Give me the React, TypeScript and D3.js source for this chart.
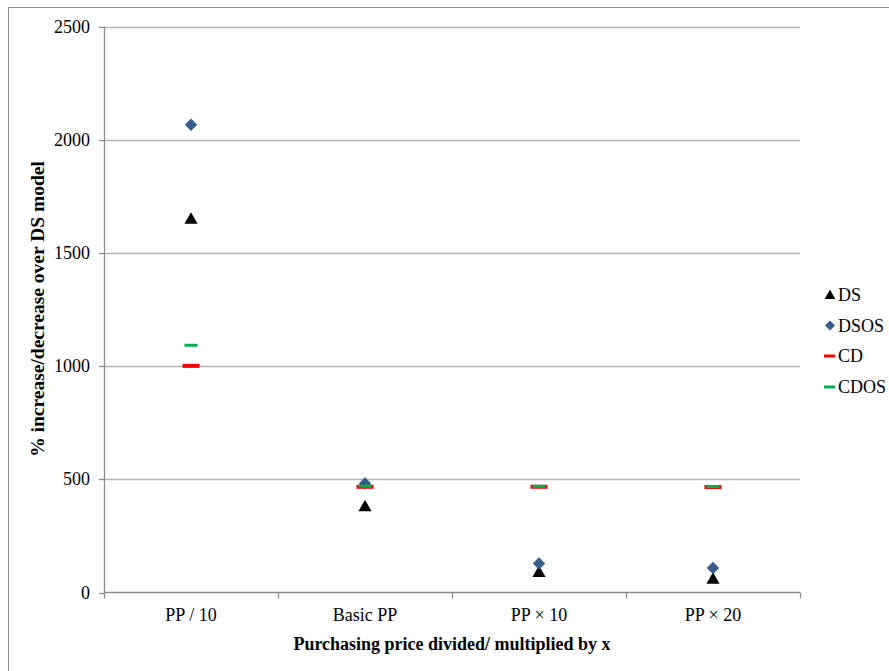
import React from "react";
import * as d3 from "d3";

const categories = ["PP / 10", "Basic PP", "PP \u00d7 10", "PP \u00d7 20"];
const dsValues = [1650, 380, 90, 60];
const dsosValues = [2066, 482, 128, 108];
const cdValues = [1001, 467, 467, 466];
const cdosValues = [1092, 470, 469, 468];
const yTicks = [0, 500, 1000, 1500, 2000, 2500];
const seriesNames = ["DS", "DSOS", "CD", "CDOS"];

const W = 889;
const H = 671;
const FONT = "Liberation Serif, Times New Roman, Tinos, DejaVu Serif, serif";
const BLUE = "#385D8A";
const RED = "#FF0000";
const GREEN = "#00B050";

function diamondPath(r: number) {
  const p = d3.path();
  p.moveTo(0, -r);
  p.lineTo(r, 0);
  p.lineTo(0, r);
  p.lineTo(-r, 0);
  p.closePath();
  return p.toString();
}

export default function App() {
  const x = d3.scaleBand<string>().domain(categories).range([104, 800]).padding(0);
  const y = d3.scaleLinear().domain([0, 2500]).range([592.5, 26.5]);
  const cx = (c: string) => (x(c) as number) + x.bandwidth() / 2;
  const tri = d3.symbol().type(d3.symbolTriangle).size(75)() as string;
  const triLeg = d3.symbol().type(d3.symbolTriangle).size(50)() as string;
  const dia = diamondPath(6.2);
  const diaLeg = diamondPath(5);
  const boundaries = [...categories.map((c) => x(c) as number), 800];
  const legendY = [295, 325.5, 356, 387];

  return (
    <svg width={W} height={H} style={{ position: "absolute", left: 0, top: 0, background: "#fff", fontFamily: FONT }}>
      <rect x={8.5} y={7.5} width={1000} height={1000} fill="#fff" stroke="#8c8c8c" strokeWidth={1} />
      {yTicks.filter((t) => t > 0).map((t) => (
        <line key={"g" + t} x1={104} x2={800} y1={Math.round(y(t)) + 0.5} y2={Math.round(y(t)) + 0.5} stroke="#b3b3b3" strokeWidth={1.3} />
      ))}
      <line x1={104.5} x2={104.5} y1={26.5} y2={592.5} stroke="#8c8c8c" strokeWidth={1.3} />
      {yTicks.map((t) => (
        <g key={"yt" + t}>
          <line x1={99} x2={104} y1={Math.round(y(t)) + 0.5} y2={Math.round(y(t)) + 0.5} stroke="#8c8c8c" strokeWidth={1.3} />
          <text x={90} y={y(t) + 6} textAnchor="end" style={{ fontFamily: FONT }} fontSize={18} fill="#000">{t}</text>
        </g>
      ))}
      <line x1={104} x2={800} y1={592.5} y2={592.5} stroke="#8c8c8c" strokeWidth={1.3} />
      {boundaries.map((b, i) => (
        <line key={"xt" + i} x1={b + 0.5} x2={b + 0.5} y1={592.5} y2={598.5} stroke="#8c8c8c" strokeWidth={1.3} />
      ))}
      {categories.map((c) => (
        <text key={"xl" + c} x={cx(c)} y={621} textAnchor="middle" style={{ fontFamily: FONT }} fontSize={18} fill="#000">{c}</text>
      ))}
      <text x={452} y={649.5} textAnchor="middle" style={{ fontFamily: FONT }} fontSize={18} fontWeight="bold" fill="#000">
        Purchasing price divided/ multiplied by x
      </text>
      <text transform={`translate(44,309) rotate(-90)`} textAnchor="middle" style={{ fontFamily: FONT }} fontSize={19.5} fontWeight="bold" fill="#000">
        % increase/decrease over DS model
      </text>
      {categories.map((c, i) => (
        <path key={"ds" + i} d={tri} transform={`translate(${cx(c)},${y(dsValues[i]) + 1})`} fill="#000" />
      ))}
      {categories.map((c, i) => (
        <path key={"dsos" + i} d={dia} transform={`translate(${cx(c)},${y(dsosValues[i])})`} fill={BLUE} />
      ))}
      {categories.map((c, i) => (
        <rect key={"cd" + i} x={cx(c) - 8.5} y={y(cdValues[i]) - 2} width={17} height={4} fill={RED} />
      ))}
      {categories.map((c, i) => (
        <rect key={"cdos" + i} x={cx(c) - 6.5} y={y(cdosValues[i]) - 1.5} width={13} height={3} fill={GREEN} />
      ))}
      <path d={triLeg} transform={`translate(830,${legendY[0] + 1})`} fill="#000" />
      <path d={diaLeg} transform={`translate(830,${legendY[1]})`} fill={BLUE} />
      <rect x={824} y={legendY[2] - 1.5} width={11} height={3} fill={RED} />
      <rect x={824} y={legendY[3] - 1.5} width={11} height={3} fill={GREEN} />
      {seriesNames.map((n, i) => (
        <text key={"lg" + n} x={838} y={legendY[i] + 6} style={{ fontFamily: FONT }} fontSize={18} fill="#000">{n}</text>
      ))}
    </svg>
  );
}
